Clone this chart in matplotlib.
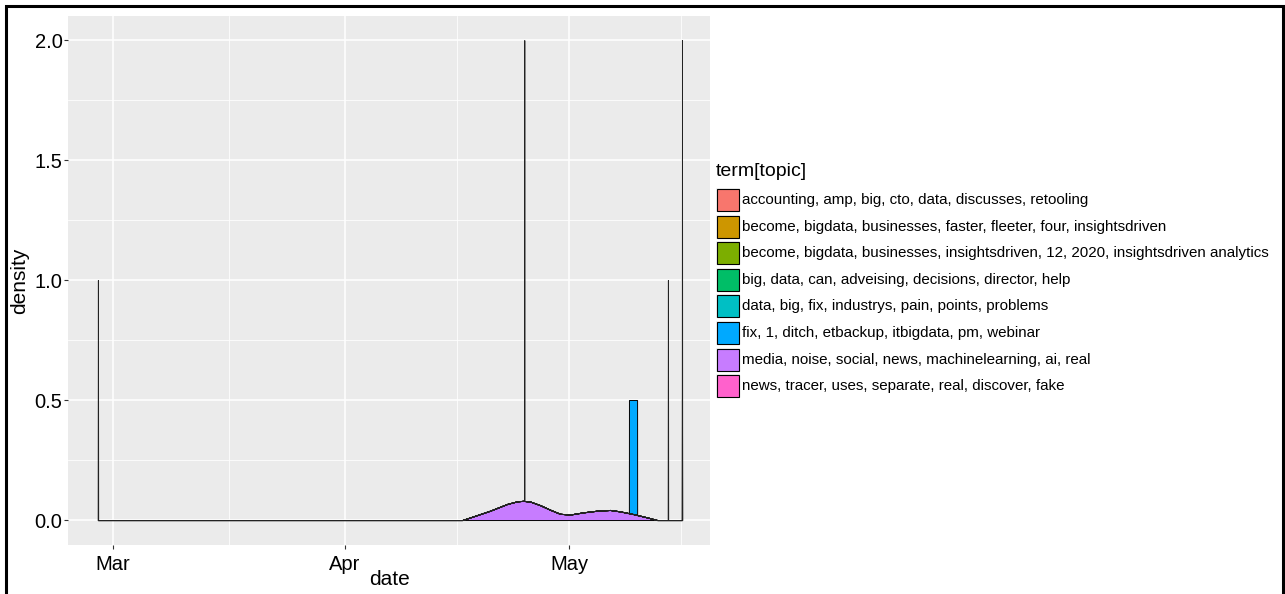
import matplotlib
matplotlib.use("Agg")
import matplotlib.pyplot as plt
import matplotlib.dates as mdates
import numpy as np
import pandas as pd
from matplotlib.patches import Rectangle

plt.rcParams['font.family'] = ['Liberation Sans', 'DejaVu Sans']

# ---------------- data ----------------
topics = [
    "accounting, amp, big, cto, data, discusses, retooling",
    "become, bigdata, businesses, faster, fleeter, four, insightsdriven",
    "become, bigdata, businesses, insightsdriven, 12, 2020, insightsdriven analytics",
    "big, data, can, adveising, decisions, director, help",
    "data, big, fix, industrys, pain, points, problems",
    "fix, 1, ditch, etbackup, itbigdata, pm, webinar",
    "media, noise, social, news, machinelearning, ai, real",
    "news, tracer, uses, separate, real, discover, fake",
]
topic_colors = ["#F8766D", "#CD9600", "#7CAE00", "#00BE67",
                "#00BFC4", "#00A9FF", "#C77CFF", "#FF61CC"]

# smooth density of the "media, noise, ..." topic
media_dates = ["2020-04-16 17:00", "2020-04-17 18:30", "2020-04-20 10:30",
               "2020-04-22 17:00", "2020-04-24 01:00", "2020-04-24 20:30",
               "2020-04-25 19:00", "2020-04-27 03:00", "2020-04-28 11:00",
               "2020-04-29 19:00", "2020-05-01 03:30", "2020-05-02 21:00",
               "2020-05-04 18:00", "2020-05-06 11:30", "2020-05-07 19:40",
               "2020-05-09 13:30", "2020-05-11 10:20", "2020-05-12 18:30"]
media_density = [0.0, 0.011, 0.039, 0.067, 0.078, 0.080, 0.077, 0.062, 0.043,
                 0.026, 0.023, 0.032, 0.039, 0.042, 0.036, 0.025, 0.011, 0.0]

# near-degenerate densities (spikes at single dates)
spike_topics = [topics[0], topics[4], topics[3], topics[1], topics[7]]
spike_dates = ["2020-02-28 00:00", "2020-04-25 00:00", "2020-05-14 05:00",
               "2020-05-16 02:00", "2020-05-16 02:00"]
spike_heights = [1.0, 1.92, 1.0, 2.0, 0.5]

# narrow block density of "fix, 1, ditch, ..." topic (stacked top = 0.5)
fix_dates = ["2020-05-09 00:00", "2020-05-10 02:00"]
fix_stack_top = 0.5

x_breaks = ["2020-03-01", "2020-04-01", "2020-05-01"]
x_labels = ["Mar", "Apr", "May"]
y_breaks = [0.0, 0.5, 1.0, 1.5, 2.0]
y_labels = ["0.0", "0.5", "1.0", "1.5", "2.0"]

# ---------------- figure ----------------
W, H = 1285, 594
fig = plt.figure(figsize=(W / 100, H / 100), dpi=100)
ax = fig.add_axes([68 / W, 1 - 545 / H, 642 / W, 529 / H])
ax.set_facecolor("#EBEBEB")
for s in ax.spines.values():
    s.set_visible(False)

def num(d):
    return mdates.date2num(pd.to_datetime(d))

mx = np.array([num(d) for d in media_dates])
my = np.array(media_density)
sx = [num(d) for d in spike_dates]
xmin = min(sx + list(mx))
xmax = max(sx + list(mx))

def media_base(g):
    return np.interp(g, mx, my, left=0.0, right=0.0)

color_of = dict(zip(topics, topic_colors))
lw = 0.7

# media density
g = np.unique(np.concatenate([[xmin, xmax], mx]))
ax.fill_between(g, 0, media_base(g), facecolor=color_of[topics[6]],
                edgecolor="black", linewidth=lw, zorder=2)

# fix block density stacked on media
f0, f1 = num(fix_dates[0]), num(fix_dates[1])
d = 0.01
g = np.unique(np.concatenate([[xmin, xmax], mx, [f0 - d, f0, f1, f1 + d]]))
b = media_base(g)
inside = (g >= f0) & (g <= f1)
top = np.where(inside, fix_stack_top, b)
ax.fill_between(g, b, top, facecolor=color_of[topics[5]], edgecolor="black",
                linewidth=lw, zorder=3)

# spikes
w = 0.03
for t, x0, h in zip(spike_topics, sx, spike_heights):
    px = [x0 - w, x0, x0 + w]
    py = [0, h, 0]
    g = np.unique(np.concatenate([[xmin, xmax], mx, px]))
    b = media_base(g)
    ax.fill_between(g, b, b + np.interp(g, px, py, left=0, right=0),
                    facecolor=color_of[t], edgecolor="#222222",
                    linewidth=lw, zorder=4)

# scales
ax.set_xlim(num("2020-02-24 00:00"), num("2020-05-19 20:00"))
ax.set_ylim(-0.104, 2.10)
xb = [num(x) for x in x_breaks]
ax.set_xticks(xb)
ax.set_xticklabels(x_labels)
minor_x = [(xb[i] + xb[i + 1]) / 2 for i in range(len(xb) - 1)]
minor_x.append(xb[-1] + (xb[-1] - xb[-2]) / 2)
ax.set_xticks(minor_x, minor=True)
ax.set_yticks(y_breaks)
ax.set_yticklabels(y_labels)
ax.set_yticks([(y_breaks[i] + y_breaks[i + 1]) / 2 for i in range(len(y_breaks) - 1)], minor=True)

ax.grid(True, which="major", color="white", linewidth=1.1, zorder=0)
ax.grid(True, which="minor", color="white", linewidth=0.55, zorder=0)
ax.set_axisbelow(True)
ax.tick_params(which="major", length=3, width=0.8, color="#333333",
               labelsize=14.5, labelcolor="black")
ax.tick_params(axis="x", which="major", pad=4.0)
ax.tick_params(axis="y", which="major", pad=1)
ax.tick_params(which="minor", length=0)

ax.set_xlabel("date", fontsize=15, color="black")
ax.set_ylabel("density", fontsize=15, color="black")
ax.xaxis.set_label_coords(0.5, -0.048)
ax.yaxis.set_label_coords(-0.061, 0.5)

# legend (manual, ggplot style)
def fx_(x):
    return x / W

def fy_(y):
    return 1 - y / H

fig.text(fx_(716), fy_(172), "term[topic]", fontsize=14, va="center", ha="left")
for i, (t, c) in enumerate(zip(topics, topic_colors)):
    topy = 188 + i * 26.6
    fig.patches.append(Rectangle((fx_(716), fy_(topy + 24)), 24 / W, 24 / H,
                                 transform=fig.transFigure, facecolor="#F2F2F2",
                                 edgecolor="none"))
    fig.patches.append(Rectangle((fx_(717), fy_(topy + 23)), 22 / W, 22 / H,
                                 transform=fig.transFigure, facecolor=c,
                                 edgecolor="black", linewidth=0.8))
    fig.text(fx_(742), fy_(topy + 12), t, fontsize=10.9, va="center", ha="left")

# outer border
fig.patches.append(Rectangle((6 / W, -0.05), (1283 - 6) / W, 1 - 6 / H + 0.05,
                             transform=fig.transFigure, facecolor="none",
                             edgecolor="black", linewidth=2.2))

fig.savefig("out.png", dpi=100)
